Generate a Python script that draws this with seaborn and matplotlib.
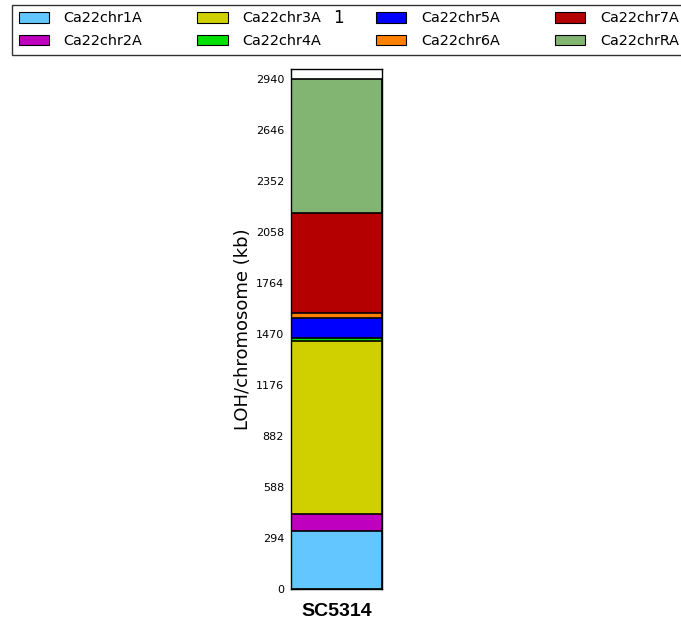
import numpy as np
import pandas as pd
import matplotlib
matplotlib.use("Agg")
import matplotlib.pyplot as plt
from matplotlib.patches import Patch
import seaborn as sns

# LOH length per chromosome (kb) for strain SC5314
strain = "SC5314"
chromosomes = ["Ca22chr1A", "Ca22chr2A", "Ca22chr3A", "Ca22chr4A",
               "Ca22chr5A", "Ca22chr6A", "Ca22chr7A", "Ca22chrRA"]
loh_kb = [334, 97, 997, 19, 118, 26, 579, 770]
colors = ["#63c6ff", "#bf00bf", "#d0d000", "#00e000",
          "#0000ff", "#ff8000", "#b40000", "#82b571"]

sns.set_theme(style="white")
plt.rcParams["font.family"] = ["DejaVu Sans"]
plt.rcParams["text.color"] = "black"
plt.rcParams["axes.labelcolor"] = "black"
plt.rcParams["xtick.color"] = "black"
plt.rcParams["ytick.color"] = "black"

fig = plt.figure(figsize=(6.81, 6.23), dpi=100)
ax = fig.add_axes([291 / 681, 1 - 589 / 623, 91 / 681, 520 / 623])

df = pd.DataFrame({"strain": strain, "chrom": chromosomes, "kb": loh_kb})
df["top"] = df["kb"].cumsum()
total = df["kb"].sum()

# stacked bar: draw cumulative heights from the top layer down
for i in range(len(df) - 1, -1, -1):
    row = df.iloc[[i]]
    sns.barplot(data=row, x="strain", y="top", color=colors[i], width=1.0,
                edgecolor="black", linewidth=1.2, saturation=1, ax=ax,
                label=chromosomes[i])

ax.set_xlim(-0.5, 0.5)
ax.set_ylim(0, total * 1.02)
ticks = np.linspace(0, total, 11)
ax.set_yticks(ticks)
ax.set_yticklabels([f"{int(round(t))}" for t in ticks], fontsize=8)
ax.tick_params(axis="y", direction="in", length=5, width=0.8, left=True, pad=5)
ax.tick_params(axis="x", length=0, pad=10)
ax.set_xticks([0])
ax.set_xticklabels([strain], fontsize=14, fontweight="bold",
                   family=["Liberation Sans", "DejaVu Sans"])
ax.set_xlabel("")
ax.set_ylabel("LOH/chromosome (kb)", fontsize=13, labelpad=3)
for s in ax.spines.values():
    s.set_visible(True)
    s.set_color("black")
    s.set_linewidth(1.0)
if ax.get_legend():
    ax.get_legend().remove()

leg_handles = [Patch(facecolor=c, edgecolor="black", linewidth=0.8) for c in colors]
leg = fig.legend(leg_handles, chromosomes, ncol=4, loc="upper left",
                 bbox_to_anchor=(12 / 681, 1 - 5 / 623), fontsize=10.4,
                 frameon=True, fancybox=False, shadow=False, edgecolor="black",
                 handlelength=2.08, handleheight=0.75, columnspacing=3.85,
                 labelspacing=0.6, borderpad=0.45, handletextpad=1.0,
                 borderaxespad=0)
leg.get_frame().set_linewidth(1.0)

fig.text(338 / 681, 1 - 18 / 623, "1", fontsize=12, ha="center", va="center",
         zorder=10)

fig.savefig("out.png", dpi=100)
